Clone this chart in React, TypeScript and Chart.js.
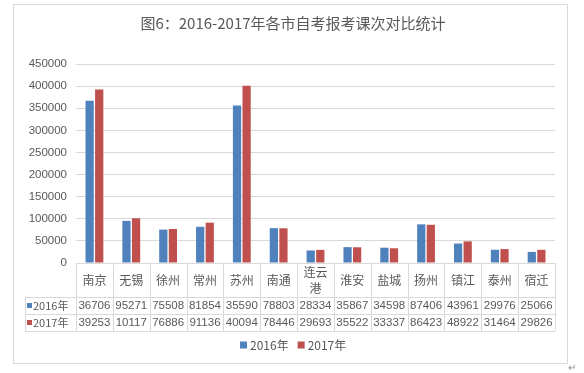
import React, { useEffect, useRef } from "react";
import { Chart, registerables } from "chart.js";

Chart.register(...registerables);

const titleText = "图6：2016-2017年各市自考报考课次对比统计";
const categories = ["南京", "无锡", "徐州", "常州", "苏州", "南通", "连云港", "淮安", "盐城", "扬州", "镇江", "泰州", "宿迁"];
const seriesNames = ["2016年", "2017年"];
const values2016 = [367060, 95271, 75508, 81854, 355900, 78803, 28334, 35867, 34598, 87406, 43961, 29976, 25066];
const values2017 = [392530, 101170, 76886, 91136, 400940, 78446, 29693, 35522, 33337, 86423, 48922, 31464, 29826];
const colors = ["#4F81BD", "#C0504D"];
const yMax = 450000;
const yStep = 50000;

const TEXT = "#595959";
const LINE = "#D9D9D9";
const CJK = '"Noto Sans CJK SC", "Liberation Sans", sans-serif';
const NUM = '"Liberation Sans", "Noto Sans CJK SC", sans-serif';

const decorPlugin = {
  id: "decor",
  beforeDraw(chart: any) {
    const ctx = chart.ctx;
    ctx.save();
    ctx.fillStyle = "#ffffff";
    ctx.fillRect(0, 0, chart.width, chart.height);
    ctx.strokeStyle = LINE;
    ctx.lineWidth = 1;
    ctx.strokeRect(13.5, 4.5, 554, 359);
    ctx.restore();
  },
  afterDraw(chart: any) {
    const ctx = chart.ctx;
    const area = chart.chartArea;
    const xs = chart.scales.x;
    const n = categories.length;
    const w = (area.right - area.left) / n;
    const top = area.bottom;
    const r1 = top + 34;
    const r2 = r1 + 17;
    const r3 = r2 + 17;
    const tableLeft = 25;
    ctx.save();
    // title
    ctx.fillStyle = TEXT;
    ctx.font = `15px ${CJK}`;
    ctx.textAlign = "center";
    ctx.textBaseline = "middle";
    ctx.fillText(titleText, 293, 23);

    // table grid
    ctx.strokeStyle = LINE;
    ctx.lineWidth = 1;
    ctx.beginPath();
    for (let i = 0; i <= n; i++) {
      const x = Math.round(area.left + i * w) + 0.5;
      ctx.moveTo(x, top);
      ctx.lineTo(x, r3);
    }
    [r1, r2, r3].forEach((y) => {
      ctx.moveTo(tableLeft, Math.round(y) + 0.5);
      ctx.lineTo(area.right, Math.round(y) + 0.5);
    });
    ctx.moveTo(tableLeft + 0.5, r1);
    ctx.lineTo(tableLeft + 0.5, r3);
    ctx.stroke();

    // header labels
    ctx.fillStyle = TEXT;
    ctx.font = `12px ${CJK}`;
    ctx.textAlign = "center";
    categories.forEach((c, i) => {
      const cx = xs.getPixelForValue(i);
      if (c.length > 2) {
        ctx.fillText(c.slice(0, 2), cx, top + 9);
        ctx.fillText(c.slice(2), cx, top + 25);
      } else {
        ctx.fillText(c, cx, top + 17);
      }
    });

    // value rows
    const rows = [values2016, values2017];
    rows.forEach((vals, ri) => {
      const cy = (ri === 0 ? (r1 + r2) / 2 : (r2 + r3) / 2) + 0.5;
      ctx.font = `11.5px ${NUM}`;
      ctx.textAlign = "center";
      ctx.fillStyle = TEXT;
      vals.forEach((v, i) => {
        const cx = xs.getPixelForValue(i);
        ctx.fillText(String(v).slice(0, 5), cx, cy);
      });
      ctx.fillStyle = colors[ri];
      ctx.fillRect(27, cy - 3, 5, 5);
      ctx.fillStyle = TEXT;
      ctx.font = `11px ${CJK}`;
      ctx.textAlign = "left";
      ctx.fillText(seriesNames[ri], 33, cy);
    });

    // legend
    const ly = 345;
    ctx.font = `12px ${CJK}`;
    ctx.textAlign = "left";
    let lx = 240;
    seriesNames.forEach((s, i) => {
      ctx.fillStyle = colors[i];
      ctx.fillRect(lx, ly - 3.5, 7, 7);
      ctx.fillStyle = TEXT;
      ctx.fillText(s, lx + 10, ly);
      lx += 10 + ctx.measureText(s).width + 9;
    });

    // paragraph mark
    ctx.fillStyle = "#8c8c8c";
    ctx.font = `10px ${CJK}`;
    ctx.fillText("↵", 568, 367);
    ctx.restore();
  },
};

export default function App() {
  const ref = useRef<HTMLCanvasElement | null>(null);
  useEffect(() => {
    if (!ref.current) return;
    const chart = new Chart(ref.current, {
      type: "bar",
      data: {
        labels: categories,
        datasets: [
          { label: seriesNames[0], data: values2016, backgroundColor: colors[0], barPercentage: 0.86, categoryPercentage: 0.52 },
          { label: seriesNames[1], data: values2017, backgroundColor: colors[1], barPercentage: 0.86, categoryPercentage: 0.52 },
        ],
      },
      options: {
        responsive: false,
        animation: false,
        layout: { padding: { left: 0, right: 29, top: 64, bottom: 110 } },
        plugins: { legend: { display: false }, title: { display: false }, tooltip: { enabled: false } },
        scales: {
          x: { display: false },
          y: {
            min: 0,
            max: yMax,
            ticks: {
              stepSize: yStep,
              color: TEXT,
              font: { family: NUM, size: 11.5 },
              padding: 9,
              callback: (v: any) => String(v),
            },
            grid: { color: LINE, drawTicks: false },
            border: { display: false },
            afterFit(scale: any) {
              scale.width = 76;
            },
          },
        },
      },
      plugins: [decorPlugin],
    });
    return () => chart.destroy();
  }, []);
  return (
    <div style={{ position: "absolute", left: 0, top: 0, width: 584, height: 373 }}>
      <canvas ref={ref} width={584} height={373} style={{ display: "block", width: 584, height: 373 }} />
    </div>
  );
}
